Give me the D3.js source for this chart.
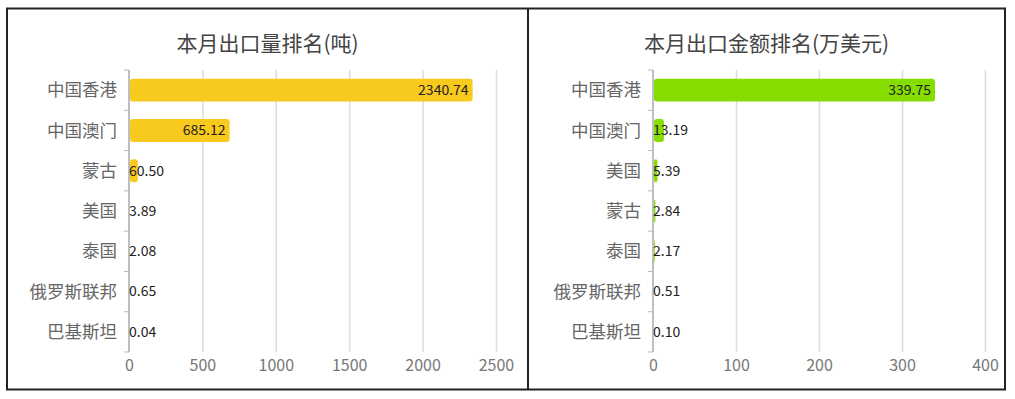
<!DOCTYPE html>
<html>
<head>
<meta charset="utf-8">
<script src="https://cdn.jsdelivr.net/npm/d3@7"></script>
<style>
  body { margin: 0; background: #fff; }
  svg { display: block; font-family: "Microsoft YaHei", "Noto Sans CJK SC", sans-serif; }
</style>
</head>
<body>
<svg id="chart" width="1015" height="399"></svg>
<script>
// export volume ranking (tons)
const volumeCategories = ['中国香港', '中国澳门', '蒙古', '美国', '泰国', '俄罗斯联邦', '巴基斯坦'];
const volumeValues = [2340.74, 685.12, 60.50, 3.89, 2.08, 0.65, 0.04];
const volumeTicks = [0, 500, 1000, 1500, 2000, 2500];

// export amount ranking (10k USD)
const amountCategories = ['中国香港', '中国澳门', '美国', '蒙古', '泰国', '俄罗斯联邦', '巴基斯坦'];
const amountValues = [339.75, 13.19, 5.39, 2.84, 2.17, 0.51, 0.10];
const amountTicks = [0, 100, 200, 300, 400];

const svg = d3.select('#chart');

// outer frame + divider
svg.append('rect')
  .attr('x', 7).attr('y', 8.5)
  .attr('width', 998).attr('height', 381)
  .attr('fill', 'none')
  .attr('stroke', '#222')
  .attr('stroke-width', 2);
svg.append('line')
  .attr('x1', 528).attr('x2', 528)
  .attr('y1', 8.5).attr('y2', 389.5)
  .attr('stroke', '#222')
  .attr('stroke-width', 2);

const renderPanel = (opts) => {
  const { title, cats, vals, ticks, color, left, right, x0, x1 } = opts;
  const top = 70, bottom = 352;
  const g = svg.append('g');

  const x = d3.scaleLinear().domain([ticks[0], ticks[ticks.length - 1]]).range([x0, x1]);
  const y = d3.scaleBand().domain(cats).range([top, bottom])
    .paddingInner(0.43).paddingOuter(0.215);

  // title
  g.append('text')
    .attr('x', (left + right) / 2)
    .attr('y', 45)
    .attr('text-anchor', 'middle')
    .attr('dominant-baseline', 'middle')
    .attr('fill', '#444')
    .style('font-size', '21px')
    .text(title);

  // vertical grid lines + tick labels
  const xAxis = d3.axisBottom(x).tickValues(ticks).tickSize(-(bottom - top)).tickFormat(d3.format('d'));
  g.append('g')
    .attr('transform', `translate(0,${bottom})`)
    .call(xAxis)
    .call((a) => a.select('.domain').remove())
    .call((a) => a.selectAll('.tick line')
      .attr('stroke', '#dcdcdc')
      .attr('stroke-width', 1.5)
      .attr('stroke-opacity', (d) => (d === 0 ? 0 : 1)))
    .call((a) => a.selectAll('.tick text')
      .attr('y', 8)
      .attr('fill', '#777')
      .style('font-size', '16px')
      .style('font-family', '"Microsoft YaHei", "Noto Sans CJK SC", sans-serif'));

  // y axis line and boundary ticks
  const step = y.step();
  const half = (step * y.paddingInner()) / 2;
  const bounds = cats.map((c) => y(c) - half).concat([y(cats[cats.length - 1]) + y.bandwidth() + half]);
  g.append('line')
    .attr('x1', x0).attr('x2', x0)
    .attr('y1', top).attr('y2', bottom)
    .attr('stroke', '#aaa')
    .attr('stroke-width', 1.5);
  g.selectAll('.ytick')
    .data(bounds)
    .join('line')
    .attr('class', 'ytick')
    .attr('x1', x0 - 5).attr('x2', x0)
    .attr('y1', (d) => d).attr('y2', (d) => d)
    .attr('stroke', '#bbb')
    .attr('stroke-width', 1);

  // category labels
  g.selectAll('.cat')
    .data(cats)
    .join('text')
    .attr('class', 'cat')
    .attr('x', x0 - 12)
    .attr('y', (d) => y(d) + y.bandwidth() / 2)
    .attr('dy', '.35em')
    .attr('text-anchor', 'end')
    .attr('fill', '#666')
    .style('font-size', '17.5px')
    .text((d) => d);

  // bars
  const data = cats.map((c, i) => ({ cat: c, value: vals[i] }));
  g.selectAll('.bar')
    .data(data)
    .join('rect')
    .attr('class', 'bar')
    .attr('x', x0 + 1)
    .attr('y', (d) => y(d.cat))
    .attr('width', (d) => Math.max(0, x(d.value) - x0 - 1))
    .attr('height', y.bandwidth())
    .attr('rx', 3)
    .attr('fill', color);

  // value labels: inside right when they fit, otherwise start at the axis
  g.selectAll('.val')
    .data(data)
    .join('text')
    .attr('class', 'val')
    .attr('y', (d) => y(d.cat) + y.bandwidth() / 2)
    .attr('dy', '.35em')
    .attr('fill', '#222')
    .style('font-size', '14px')
    .text((d) => d3.format('.2f')(d.value))
    .each(function(d) {
      const w = this.getComputedTextLength();
      const barW = x(d.value) - x0;
      if (barW >= w + 8) {
        d3.select(this).attr('x', x(d.value) - 4).attr('text-anchor', 'end');
      } else {
        d3.select(this).attr('x', x0).attr('text-anchor', 'start');
      }
    });
};

renderPanel({
  title: '本月出口量排名(吨)',
  cats: volumeCategories,
  vals: volumeValues,
  ticks: volumeTicks,
  color: '#f9ca1e',
  left: 7, right: 528,
  x0: 129, x1: 496
});

renderPanel({
  title: '本月出口金额排名(万美元)',
  cats: amountCategories,
  vals: amountValues,
  ticks: amountTicks,
  color: '#86dd00',
  left: 528, right: 1005,
  x0: 653, x1: 985
});
</script>
</body>
</html>
